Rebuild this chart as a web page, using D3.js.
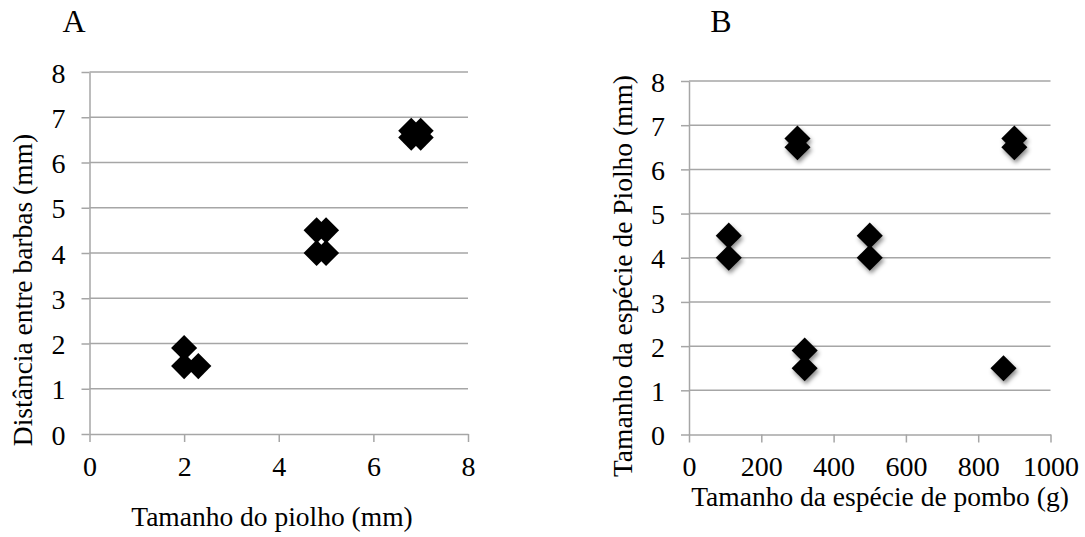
<!DOCTYPE html>
<html>
<head>
<meta charset="utf-8">
<script src="https://cdn.jsdelivr.net/npm/d3@7"></script>
<style>
  html, body { margin: 0; padding: 0; background: #ffffff; }
  svg { display: block; }
  text { font-family: "Liberation Serif", "Times New Roman", serif; fill: #000; }
</style>
</head>
<body>
<svg id="chart" width="1085" height="537"></svg>
<script>
// ---- Data ----
const panelLabels = ["A", "B"];

const aXTicks = [0, 2, 4, 6, 8];
const aYTicks = [0, 1, 2, 3, 4, 5, 6, 7, 8];
const aX = [2.0, 2.0, 2.3, 4.8, 5.0, 4.8, 5.0, 6.8, 7.0, 6.8, 7.0];
const aY = [1.9, 1.5, 1.5, 4.5, 4.5, 4.0, 4.0, 6.7, 6.7, 6.55, 6.55];
const aXTitle = "Tamanho do piolho (mm)";
const aYTitle = "Distância entre barbas (mm)";

const bXTicks = [0, 200, 400, 600, 800, 1000];
const bYTicks = [0, 1, 2, 3, 4, 5, 6, 7, 8];
const bX = [110, 110, 300, 300, 320, 320, 500, 500, 900, 900, 870];
const bY = [4.5, 4.0, 6.7, 6.5, 1.9, 1.5, 4.5, 4.0, 6.7, 6.5, 1.5];
const bXTitle = "Tamanho da espécie de pombo (g)";
const bYTitle = "Tamanho da espécie de Piolho (mm)";

// ---- Drawing ----
const svg = d3.select("#chart");
const defs = svg.append("defs");
const f = defs.append("filter").attr("id", "shadow")
  .attr("x", "-50%").attr("y", "-50%").attr("width", "200%").attr("height", "200%");
f.append("feDropShadow").attr("dx", 1.5).attr("dy", 3).attr("stdDeviation", 2)
  .attr("flood-color", "#000").attr("flood-opacity", 0.45);

const GRID = "#a6a6a6";
const TICK_FS = 28;
const TITLE_FS = 27.5;

function drawPanel(cfg) {
  const x = d3.scaleLinear().domain([cfg.xTicks[0], cfg.xTicks[cfg.xTicks.length - 1]]).range([cfg.left, cfg.right]);
  const y = d3.scaleLinear().domain([cfg.yTicks[0], cfg.yTicks[cfg.yTicks.length - 1]]).range([cfg.bottom, cfg.top]);
  const g = svg.append("g");

  // horizontal gridlines
  g.append("g").selectAll("line").data(cfg.yTicks.slice(1)).join("line")
    .attr("x1", cfg.left).attr("x2", cfg.right)
    .attr("y1", d => y(d)).attr("y2", d => y(d))
    .attr("stroke", GRID).attr("stroke-width", 1.5);

  // y axis
  const ya = g.append("g").attr("transform", `translate(${cfg.left},0)`)
    .call(d3.axisLeft(y).tickValues(cfg.yTicks).tickFormat(d3.format("d"))
      .tickSizeInner(8).tickSizeOuter(0).tickPadding(cfg.yPad));
  // x axis
  const xa = g.append("g").attr("transform", `translate(0,${cfg.bottom})`)
    .call(d3.axisBottom(x).tickValues(cfg.xTicks).tickFormat(d3.format("d"))
      .tickSizeInner(8).tickSizeOuter(0).tickPadding(14));
  [ya, xa].forEach(a => {
    a.attr("font-size", TICK_FS).attr("font-family", "Liberation Serif, serif");
    a.selectAll("path.domain").attr("stroke", GRID).attr("stroke-width", 1.5);
    a.selectAll(".tick line").attr("stroke", GRID).attr("stroke-width", 1.5);
    a.selectAll(".tick text").attr("font-size", TICK_FS).attr("fill", "#000");
  });
  ya.selectAll(".tick text").attr("dy", "0.36em");

  // points (diamonds)
  const sym = d3.symbol().type(d3.symbolSquare).size(340);
  g.append("g").attr("filter", cfg.shadow ? "url(#shadow)" : null)
    .selectAll("path").data(cfg.xs.map((v, i) => [v, cfg.ys[i]])).join("path")
    .attr("d", sym)
    .attr("transform", d => `translate(${x(d[0])},${y(d[1])}) rotate(45)`)
    .attr("fill", "#000");

  // titles
  g.append("text").attr("x", cfg.xTitleCx).attr("y", cfg.xTitleY)
    .attr("text-anchor", "middle").attr("font-size", TITLE_FS).text(cfg.xTitle);
  g.append("text").attr("transform", `translate(${cfg.yTitleX},${cfg.yTitleCy}) rotate(-90)`)
    .attr("text-anchor", "middle").attr("font-size", TITLE_FS).text(cfg.yTitle);
  g.append("text").attr("x", cfg.labelX).attr("y", 32)
    .attr("text-anchor", "middle").attr("font-size", 32).text(cfg.label);
}

drawPanel({
  label: panelLabels[0], labelX: 74,
  xTicks: aXTicks, yTicks: aYTicks, xs: aX, ys: aY,
  left: 89.5, right: 468, top: 72, bottom: 434, yPad: 16,
  xTitle: aXTitle, yTitle: aYTitle, xTitleY: 526, xTitleCx: 272,
  yTitleX: 32, yTitleCy: 290, shadow: false
});

drawPanel({
  label: panelLabels[1], labelX: 721,
  xTicks: bXTicks, yTicks: bYTicks, xs: bX, ys: bY,
  left: 689, right: 1050.5, top: 81, bottom: 434.5, yPad: 16,
  xTitle: bXTitle, yTitle: bYTitle, xTitleY: 506, xTitleCx: 880,
  yTitleX: 632, yTitleCy: 276, shadow: true
});
</script>
</body>
</html>
